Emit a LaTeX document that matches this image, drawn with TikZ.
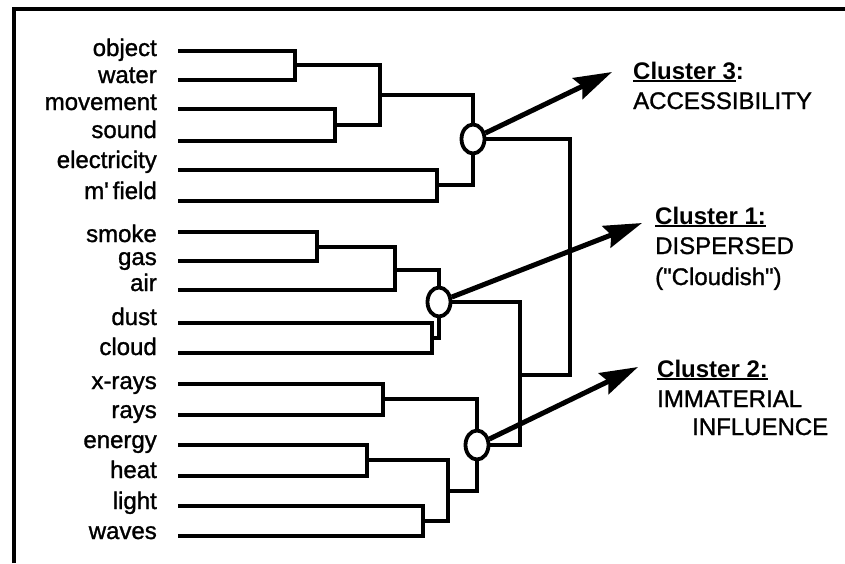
\documentclass[tikz,border=0pt]{standalone}
\usepackage{fontspec}
\setmainfont{Liberation Sans}[Ligatures=TeXOff]
\newfontfamily\lblfont{Liberation Sans}[Ligatures=TeXOff,FakeBold=1.2]
\usetikzlibrary{shapes.geometric,arrows.meta}
\newcommand\ulbox[1]{\setbox0\hbox{#1}\rlap{\rule[-3.2pt]{\wd0}{2.2pt}}\box0}
\begin{document}
\begin{tikzpicture}[x=1pt,y=-1pt,
  font=\lblfont\fontsize{24}{28}\selectfont,
  lab/.style={anchor=base east,inner sep=0pt},
  ctext/.style={anchor=base west,inner sep=0pt},
  ctitle/.style={anchor=base west,inner sep=0pt,font=\rmfamily\fontsize{24}{28}\selectfont\bfseries},
  tree/.style={line width=3.2pt,line join=miter},
  oval/.style={ellipse,draw,line width=3.8pt,fill=white,minimum width=23pt,minimum height=29pt,inner sep=0pt},
  arr/.style={line width=5pt,-{Stealth[length=38pt,width=23pt,inset=5pt]}},
  frame/.style={line width=4.5pt}]
\useasboundingbox (0,0) rectangle (845,563);
% frame
\draw[frame] (14,563) -- (14,9) -- (845,9);
% labels
\node[lab] (lobject) at (157,56) {object};
\node[lab] (lwater) at (157,83) {water};
\node[lab] (lmovement) at (157,110) {movement};
\node[lab] (lsound) at (157,138) {sound};
\node[lab] (lelec) at (157,168) {electricity};
\node[lab] (lfield) at (157,199) {m'\,field};
\node[lab] (lsmoke) at (157,242) {smoke};
\node[lab] (lgas) at (157,265) {gas};
\node[lab] (lair) at (157,291) {air};
\node[lab] (ldust) at (157,325) {dust};
\node[lab] (lcloud) at (157,355) {cloud};
\node[lab] (lxrays) at (157,389) {x-rays};
\node[lab] (lrays) at (157,418) {rays};
\node[lab] (lenergy) at (157,448) {energy};
\node[lab] (lheat) at (157,478) {heat};
\node[lab] (llight) at (157,509) {light};
\node[lab] (lwaves) at (157,539) {waves};
% leaf starts
\coordinate (sobject) at (178,51);
\coordinate (swater) at (178,80);
\coordinate (smovement) at (178,109);
\coordinate (ssound) at (178,141);
\coordinate (selec) at (178,170);
\coordinate (sfield) at (178,201);
\coordinate (ssmoke) at (178,232);
\coordinate (sgas) at (178,261);
\coordinate (sair) at (178,290);
\coordinate (sdust) at (178,323);
\coordinate (scloud) at (178,353);
\coordinate (sxrays) at (178,384);
\coordinate (srays) at (178,415);
\coordinate (senergy) at (178,445);
\coordinate (sheat) at (178,476);
\coordinate (slight) at (178,506);
\coordinate (swaves) at (178,536);
% junctions
\coordinate (jow) at (295,65);
\coordinate (jms) at (335,125);
\coordinate (jowms) at (380,95);
\coordinate (jef) at (437,185);
\coordinate (jsg) at (317,247);
\coordinate (jsga) at (395,270);
\coordinate (jdc) at (432,338);
\coordinate (jxr) at (383,399);
\coordinate (jeh) at (367,460);
\coordinate (jlw) at (423,521);
\coordinate (jehlw) at (448,491);
\coordinate (k3) at (570,375);
\coordinate (k1) at (520,375);
% ovals
\node[oval] (o3) at (473,139) {};
\node[oval] (o1) at (439,302) {};
\node[oval] (o2) at (477,445) {};
% tree
\draw[tree] (sobject) -| (jow) |- (swater);
\draw[tree] (smovement) -| (jms) |- (ssound);
\draw[tree] (jow) -| (jowms) |- (jms);
\draw[tree] (jowms) -| (o3);
\draw[tree] (selec) -| (jef) |- (sfield);
\draw[tree] (jef) -| (o3);
\draw[tree] (ssmoke) -| (jsg) |- (sgas);
\draw[tree] (jsg) -| (jsga) |- (sair);
\draw[tree] (jsga) -| (o1);
\draw[tree] (sdust) -| (jdc) |- (scloud);
\draw[tree] (jdc) -| (o1);
\draw[tree] (sxrays) -| (jxr) |- (srays);
\draw[tree] (jxr) -| (o2);
\draw[tree] (senergy) -| (jeh) |- (sheat);
\draw[tree] (slight) -| (jlw) |- (swaves);
\draw[tree] (jeh) -| (jehlw) |- (jlw);
\draw[tree] (jehlw) -| (o2);
\draw[tree] (o3.east) -| (k3) -- (k1);
\draw[tree] (o1.east) -| (k1) |- (o2.east);
% arrows
\coordinate (t3) at (612,72);
\coordinate (t1) at (642,223);
\coordinate (t2) at (638,367);
\draw[arr] (o3) -- (t3);
\draw[arr] (o1) -- (t1);
\draw[arr] (o2) -- (t2);
% cluster texts
\node[ctitle] (c3) at (633,79) {\ulbox{Cluster 3}:};
\node[ctext] (c3b) at (633,109) {ACCESSIBILITY};
\node[ctitle] (c1) at (655,224) {\ulbox{Cluster 1:}};
\node[ctext] (c1b) at (655,254) {DISPERSED};
\node[ctext] (c1c) at (655,285) {("Cloudish")};
\node[ctitle] (c2) at (657,377) {\ulbox{Cluster 2:}};
\node[ctext] (c2b) at (657,407) {IMMATERIAL};
\node[ctext] (c2c) at (692,435) {INFLUENCE};
\end{tikzpicture}
\end{document}
